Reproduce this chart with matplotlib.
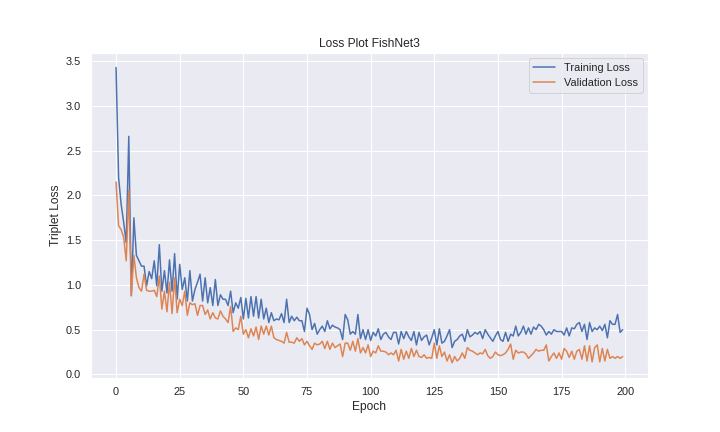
import numpy as np
import matplotlib
matplotlib.use("Agg")
import matplotlib.pyplot as plt
import seaborn as sns

# loss values, one per epoch (0..199)
train_loss = [
    3.43, 2.20, 1.90, 1.70, 1.47, 2.66, 0.88, 1.75, 1.33, 1.27,
    1.21, 1.21, 0.99, 1.15, 1.07, 1.27, 0.99, 1.45, 0.93, 1.16,
    0.91, 1.28, 0.93, 1.35, 0.84, 1.23, 0.95, 1.08, 0.82, 1.16,
    0.82, 0.95, 1.03, 1.12, 0.82, 1.08, 0.80, 0.97, 0.77, 1.06,
    0.77, 0.89, 0.84, 0.84, 0.77, 0.93, 0.69, 0.80, 0.74, 0.86,
    0.62, 0.85, 0.63, 0.87, 0.65, 0.87, 0.63, 0.84, 0.62, 0.74,
    0.58, 0.69, 0.60, 0.62, 0.61, 0.68, 0.58, 0.84, 0.58, 0.65,
    0.60, 0.64, 0.60, 0.60, 0.48, 0.74, 0.67, 0.50, 0.57, 0.45,
    0.50, 0.54, 0.48, 0.60, 0.51, 0.55, 0.53, 0.52, 0.50, 0.39,
    0.67, 0.61, 0.45, 0.48, 0.45, 0.67, 0.40, 0.50, 0.39, 0.50,
    0.38, 0.47, 0.43, 0.51, 0.39, 0.45, 0.47, 0.42, 0.39, 0.47,
    0.47, 0.34, 0.48, 0.40, 0.48, 0.42, 0.38, 0.48, 0.33, 0.47,
    0.38, 0.42, 0.44, 0.33, 0.41, 0.50, 0.33, 0.51, 0.35, 0.37,
    0.43, 0.50, 0.30, 0.37, 0.39, 0.43, 0.45, 0.37, 0.50, 0.42,
    0.44, 0.47, 0.45, 0.48, 0.40, 0.50, 0.45, 0.41, 0.37, 0.43,
    0.48, 0.39, 0.37, 0.47, 0.37, 0.45, 0.43, 0.54, 0.43, 0.47,
    0.54, 0.45, 0.52, 0.45, 0.53, 0.50, 0.56, 0.54, 0.50, 0.44,
    0.48, 0.45, 0.50, 0.48, 0.48, 0.48, 0.44, 0.52, 0.43, 0.52,
    0.51, 0.56, 0.58, 0.48, 0.56, 0.39, 0.58, 0.48, 0.52, 0.50,
    0.54, 0.49, 0.56, 0.41, 0.60, 0.56, 0.56, 0.67, 0.47, 0.50,
]

val_loss = [
    2.15, 1.66, 1.62, 1.53, 1.27, 2.06, 0.88, 1.33, 1.08, 0.97,
    0.93, 1.12, 0.94, 0.93, 0.93, 0.94, 0.87, 1.10, 0.73, 0.93,
    0.70, 1.03, 0.68, 1.08, 0.69, 0.84, 0.77, 0.93, 0.66, 0.80,
    0.78, 0.79, 0.66, 0.77, 0.77, 0.67, 0.72, 0.62, 0.69, 0.63,
    0.62, 0.71, 0.65, 0.62, 0.58, 0.76, 0.48, 0.52, 0.50, 0.65,
    0.45, 0.50, 0.41, 0.51, 0.43, 0.53, 0.39, 0.54, 0.45, 0.54,
    0.44, 0.54, 0.41, 0.39, 0.38, 0.37, 0.35, 0.47, 0.36, 0.36,
    0.35, 0.41, 0.37, 0.40, 0.33, 0.37, 0.32, 0.28, 0.35, 0.33,
    0.34, 0.37, 0.29, 0.37, 0.28, 0.35, 0.30, 0.32, 0.34, 0.20,
    0.35, 0.35, 0.27, 0.37, 0.26, 0.40, 0.24, 0.30, 0.24, 0.33,
    0.20, 0.26, 0.24, 0.32, 0.26, 0.26, 0.25, 0.22, 0.24, 0.22,
    0.27, 0.15, 0.28, 0.17, 0.26, 0.18, 0.29, 0.20, 0.27, 0.20,
    0.19, 0.22, 0.18, 0.19, 0.18, 0.35, 0.18, 0.32, 0.20, 0.25,
    0.15, 0.22, 0.13, 0.20, 0.15, 0.18, 0.24, 0.18, 0.30, 0.27,
    0.26, 0.24, 0.22, 0.24, 0.23, 0.28, 0.21, 0.18, 0.20, 0.25,
    0.22, 0.21, 0.22, 0.24, 0.28, 0.34, 0.17, 0.27, 0.24, 0.25,
    0.25, 0.23, 0.18, 0.21, 0.24, 0.28, 0.26, 0.27, 0.27, 0.33,
    0.15, 0.20, 0.24, 0.18, 0.24, 0.17, 0.29, 0.26, 0.19, 0.26,
    0.17, 0.26, 0.28, 0.17, 0.32, 0.15, 0.32, 0.14, 0.30, 0.33,
    0.14, 0.29, 0.15, 0.28, 0.18, 0.20, 0.18, 0.20, 0.18, 0.20,
]

epochs = np.arange(len(train_loss))

sns.set()
plt.rcParams['font.family'] = ['Liberation Sans', 'DejaVu Sans']

fig, ax = plt.subplots(figsize=(10, 6), dpi=72)
fig.subplots_adjust(left=0.126, right=0.9, top=0.878, bottom=0.126)

ax.plot(epochs, train_loss, label="Training Loss")
ax.plot(epochs, val_loss, label="Validation Loss")
ax.set_title("Loss Plot FishNet3")
ax.set_xlabel("Epoch")
ax.set_ylabel("Triplet Loss")
ax.legend(loc="upper right")

plt.savefig("out.png")
